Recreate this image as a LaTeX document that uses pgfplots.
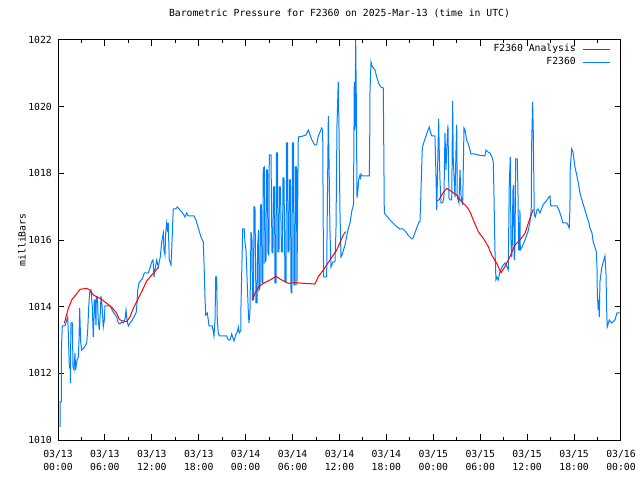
\documentclass[border=0pt]{standalone}
\usepackage{pgfplots}
\pgfplotsset{compat=1.18}
\usepackage{fontspec}
\setmonofont{DejaVu Sans Mono}
\definecolor{gblue}{RGB}{0,128,255}
\definecolor{gred}{RGB}{255,0,0}
\newcommand\gfont{\ttfamily\fontsize{9.8}{13}\selectfont}
\begin{document}
\begin{tikzpicture}
\useasboundingbox (0,0) rectangle (640bp,480bp);
\begin{axis}[
  at={(58bp,40bp)}, anchor=south west,
  scale only axis, width=563bp, height=400bp,
  xmin=0, xmax=72, ymin=1010, ymax=1022,
  xtick={0,6,...,72},
  minor xtick={3,9,...,69},
  xticklabels={{03/13\\00:00},{03/13\\06:00},{03/13\\12:00},{03/13\\18:00},{03/14\\00:00},{03/14\\06:00},{03/14\\12:00},{03/14\\18:00},{03/15\\00:00},{03/15\\06:00},{03/15\\12:00},{03/15\\18:00},{03/16\\00:00}},
  ytick={1010,1012,...,1022},
  yticklabels={1010,1012,1014,1016,1018,1020,1022},
  tick align=inside, tick pos=both,
  major tick length=6bp, minor tick length=3bp,
  every tick/.style={black, line width=1bp},
  axis line style={black, line width=1bp},
  ticklabel style={font=\gfont},
  xticklabel style={align=center, anchor=north, inner sep=0pt, yshift=-10.5bp},
  yticklabel style={anchor=east, inner sep=0pt, xshift=-6bp},
  title={Barometric Pressure for F2360 on 2025-Mar-13 (time in UTC)},
  title style={font=\gfont, at={(rel axis cs:0.5,1)}, anchor=center, yshift=21bp, inner sep=0pt},
  ylabel={milliBars},
  ylabel style={font=\gfont, at={(rel axis cs:-0.064,0.5)}, anchor=center, inner sep=0pt},
  legend style={draw=none, fill=none, font=\gfont, at={(rel axis cs:1,1)}, anchor=north east,
    xshift=-10.5bp, yshift=-2.5bp, row sep=0bp, column sep=5bp, inner sep=0pt,
    nodes={inner sep=1.5bp, text height=7.5bp, text depth=2.5bp},
    cells={anchor=east}},
  legend plot pos=right,
  legend image code/.code={\draw[#1] (0bp,0bp) -- (27bp,0bp);},
]
\addlegendimage{gred, line width=1bp}
\addlegendentry{F2360 Analysis}
\addlegendimage{gblue, line width=1bp}
\addlegendentry{F2360}

% F2360 observations
\addplot[gblue, line width=1bp, forget plot] coordinates {
(0.26,1010.39)(0.26,1011.14)(0.42,1011.14)(0.42,1012.64)(0.55,1013.42)(0.90,1013.42)
(1.24,1013.69)(1.32,1013.21)(1.45,1012.19)(1.57,1012.25)(1.57,1011.71)(1.66,1013.51)
(1.83,1013.51)(1.92,1012.19)(2.05,1012.10)(2.17,1012.61)(2.26,1012.10)(2.43,1012.40)
(2.60,1012.49)(2.69,1013.00)(2.77,1013.96)(2.90,1012.94)(3.03,1012.70)(3.32,1012.76)
(3.67,1012.91)(3.80,1013.30)(3.93,1013.99)(4.05,1014.44)(4.22,1014.50)(4.39,1013.99)
(4.51,1013.09)(4.60,1013.60)(4.64,1014.20)(4.73,1014.20)(4.86,1013.45)(4.90,1014.29)
(5.03,1014.29)(5.15,1013.60)(5.28,1013.30)(5.41,1013.81)(5.50,1014.32)(5.63,1014.05)
(5.79,1013.39)(5.92,1013.60)(6.01,1014.02)(6.65,1014.02)(7.07,1013.84)(7.51,1013.69)
(7.71,1013.51)(7.93,1013.48)(8.15,1013.54)(8.35,1013.51)(8.57,1013.63)(8.70,1013.90)
(8.82,1013.60)(8.99,1013.42)(9.21,1013.51)(9.50,1013.60)(9.85,1013.75)(10.01,1013.84)
(10.10,1014.11)(10.19,1014.50)(10.36,1014.71)(10.61,1014.80)(10.78,1014.83)(11.04,1015.01)
(11.55,1015.01)(11.76,1015.16)(11.98,1015.34)(12.15,1015.40)(12.28,1014.89)(12.40,1015.10)
(12.62,1015.40)(12.83,1015.19)(12.95,1015.34)(13.08,1015.49)(13.26,1015.94)(13.47,1016.21)
(13.55,1015.70)(13.68,1015.55)(13.77,1016.21)(13.90,1016.51)(14.03,1016.24)(14.10,1016.51)
(14.23,1015.40)(14.45,1015.25)(14.54,1015.70)(14.67,1016.51)(14.74,1016.93)(15.05,1016.93)
(15.26,1016.99)(15.60,1016.90)(15.95,1016.81)(16.24,1016.69)(16.46,1016.81)(16.66,1016.72)
(17.39,1016.72)(17.65,1016.60)(17.94,1016.36)(18.29,1016.09)(18.58,1015.94)(18.67,1015.34)
(18.80,1014.26)(18.89,1013.75)(19.09,1013.81)(19.22,1013.60)(19.31,1013.42)(19.73,1013.42)
(19.95,1013.12)(20.08,1013.60)(20.17,1014.89)(20.29,1014.89)(20.37,1013.60)(20.50,1013.21)
(20.63,1013.12)(21.57,1013.12)(21.78,1013.00)(22.00,1013.00)(22.21,1013.18)(22.34,1013.09)
(22.51,1012.97)(22.72,1013.15)(22.93,1013.24)(23.06,1013.39)(23.18,1013.21)(23.40,1013.30)
(23.40,1013.99)(23.62,1016.33)(23.82,1016.33)(23.91,1015.94)(24.04,1015.70)(24.34,1013.84)
(24.42,1013.51)(24.55,1013.84)(24.68,1016.24)(24.81,1016.00)(24.87,1014.20)(25.00,1014.20)
(25.06,1016.99)(25.19,1016.99)(25.32,1014.11)(25.45,1014.11)(25.54,1015.85)(25.64,1016.30)
(25.70,1014.50)(25.83,1014.56)(25.90,1017.05)(26.02,1017.05)(26.09,1014.71)(26.21,1014.71)
(26.25,1018.16)(26.38,1018.19)(26.47,1015.34)(26.60,1015.40)(26.66,1018.10)(26.79,1018.10)
(26.85,1015.61)(26.98,1015.55)(27.02,1018.55)(27.24,1018.55)(27.37,1015.61)(27.49,1015.61)
(27.56,1017.59)(27.69,1017.59)(27.75,1014.71)(27.88,1014.71)(27.94,1018.61)(28.07,1018.61)
(28.13,1015.64)(28.26,1015.64)(28.32,1017.59)(28.45,1017.59)(28.58,1015.64)(28.71,1015.64)
(28.77,1017.86)(28.90,1017.86)(29.03,1014.74)(29.16,1014.74)(29.22,1018.91)(29.35,1018.91)
(29.41,1015.64)(29.54,1015.64)(29.60,1017.80)(29.73,1017.80)(29.80,1014.41)(29.92,1014.41)
(29.99,1018.91)(30.12,1018.91)(30.18,1014.65)(30.31,1014.65)(30.37,1018.19)(30.50,1018.19)
(30.56,1014.65)(30.73,1019.09)(31.33,1019.12)(31.71,1019.15)(32.01,1019.30)(32.23,1019.15)
(32.48,1019.00)(32.83,1018.85)(33.08,1018.85)(33.25,1019.09)(33.72,1019.36)(33.85,1019.30)
(33.93,1016.00)(33.97,1014.89)(34.36,1014.89)(34.40,1016.00)(34.57,1019.72)(34.65,1018.55)
(34.78,1016.30)(34.91,1015.19)(35.17,1015.34)(35.42,1015.34)(35.55,1016.30)(35.68,1019.45)
(35.84,1020.74)(35.93,1019.45)(36.06,1016.84)(36.19,1015.49)(36.32,1015.55)(36.70,1015.85)
(37.08,1016.30)(37.34,1016.51)(37.60,1016.90)(37.79,1017.05)(37.89,1020.74)(37.98,1019.30)
(38.07,1022.00)(38.15,1020.20)(38.24,1017.26)(38.36,1017.50)(38.45,1017.80)(38.58,1017.92)
(38.66,1017.86)(38.75,1017.98)(38.87,1017.92)(39.81,1017.92)(39.86,1018.79)(39.90,1020.44)
(40.03,1021.34)(40.15,1021.22)(40.54,1021.10)(40.79,1020.86)(41.05,1020.68)(41.30,1020.59)
(41.60,1020.56)(41.73,1016.81)(41.94,1016.75)(42.46,1016.60)(42.84,1016.51)(43.22,1016.42)
(43.73,1016.33)(44.12,1016.33)(44.50,1016.24)(44.76,1016.15)(45.01,1016.09)(45.27,1016.03)
(45.40,1016.06)(45.78,1016.30)(46.16,1016.54)(46.29,1016.54)(46.38,1017.14)(46.51,1018.19)
(46.59,1018.76)(46.80,1018.94)(47.19,1019.21)(47.48,1019.39)(47.70,1019.18)(47.83,1019.12)
(48.21,1019.12)(48.30,1018.31)(48.38,1017.50)(48.43,1016.90)(48.50,1017.59)(48.59,1018.64)
(48.68,1019.63)(48.76,1018.64)(48.85,1017.80)(48.98,1017.11)(49.19,1017.11)(49.36,1017.29)
(49.49,1019.21)(49.62,1018.10)(49.71,1018.70)(49.87,1019.45)(50.00,1017.26)(50.13,1017.20)
(50.35,1017.20)(50.47,1020.17)(50.55,1018.40)(50.77,1017.29)(50.90,1018.70)(50.99,1019.45)
(51.06,1017.29)(51.28,1017.11)(51.41,1018.10)(51.53,1017.35)(51.75,1017.05)(51.92,1019.36)
(52.05,1019.30)(52.26,1019.00)(52.43,1018.91)(52.69,1018.70)(52.81,1018.58)(53.32,1018.58)
(53.71,1018.55)(54.60,1018.52)(54.73,1018.70)(54.99,1018.64)(55.24,1018.61)(55.50,1018.49)
(55.67,1018.34)(55.75,1017.41)(55.88,1015.70)(56.01,1014.80)(56.14,1014.89)(56.30,1014.80)
(56.52,1015.04)(56.78,1015.19)(57.16,1015.31)(57.42,1015.19)(57.58,1015.10)(57.71,1017.65)
(57.84,1018.49)(57.93,1016.00)(58.02,1015.49)(58.09,1015.79)(58.18,1017.50)(58.27,1017.65)
(58.35,1015.40)(58.44,1015.70)(58.53,1018.43)(58.73,1018.43)(58.82,1017.50)(58.91,1015.70)
(58.99,1015.70)(59.08,1016.90)(59.12,1015.70)(59.34,1015.79)(59.72,1016.00)(60.10,1016.24)
(60.36,1016.54)(60.52,1016.90)(60.58,1018.91)(60.70,1020.14)(60.78,1019.24)(60.91,1016.75)
(61.04,1016.69)(61.25,1016.90)(61.38,1016.93)(61.64,1016.81)(62.02,1017.05)(62.53,1017.20)
(62.79,1017.29)(62.92,1017.32)(63.00,1017.02)(63.81,1017.02)(64.07,1016.90)(64.32,1016.72)
(64.58,1016.51)(65.09,1016.51)(65.38,1016.36)(65.47,1016.96)(65.51,1018.13)(65.69,1018.73)
(65.86,1018.64)(66.11,1018.19)(66.50,1017.77)(66.75,1017.41)(67.01,1017.20)(67.39,1016.90)
(67.65,1016.69)(67.90,1016.51)(68.03,1016.36)(68.29,1016.21)(68.45,1015.94)(68.67,1015.79)
(68.84,1015.64)(68.93,1015.19)(68.97,1014.41)(69.09,1013.90)(69.18,1014.20)(69.22,1013.69)
(69.31,1014.74)(69.53,1015.16)(69.73,1015.34)(69.95,1015.52)(70.08,1015.01)(70.16,1013.96)
(70.24,1013.39)(70.50,1013.60)(70.81,1013.51)(71.23,1013.60)(71.48,1013.81)(71.87,1013.81)
};

% F2360 Analysis
\addplot[gred, line width=1bp, forget plot] coordinates {
(0.81,1013.50)(1.32,1013.95)(1.75,1014.20)(2.26,1014.35)(2.81,1014.52)(3.67,1014.55)
(4.09,1014.50)(4.51,1014.35)(4.95,1014.30)(5.59,1014.22)(6.23,1014.10)(6.87,1013.98)
(7.51,1013.80)(7.84,1013.62)(8.15,1013.58)(8.79,1013.55)(9.21,1013.70)(9.63,1013.95)
(10.06,1014.15)(10.70,1014.45)(11.34,1014.77)(11.98,1014.95)(12.62,1015.12)(12.92,1015.20)
};
\addplot[gred, line width=1bp, forget plot] coordinates {
(24.87,1014.19)(25.19,1014.40)(25.61,1014.58)(26.25,1014.70)(27.11,1014.80)(27.88,1014.91)
(28.61,1014.80)(29.45,1014.70)(30.31,1014.72)(31.37,1014.70)(32.86,1014.68)(33.29,1014.90)
(33.93,1015.10)(34.78,1015.40)(35.64,1015.70)(36.48,1016.15)(36.79,1016.25)
};
\addplot[gred, line width=1bp, forget plot] coordinates {
(48.53,1017.17)(48.76,1017.22)(49.23,1017.41)(49.71,1017.55)(50.35,1017.45)(50.98,1017.35)
(51.62,1017.15)(52.26,1017.00)(52.69,1016.85)(53.11,1016.60)(53.75,1016.25)(54.39,1016.05)
(55.03,1015.80)(55.46,1015.55)(56.10,1015.30)(56.65,1015.02)(57.16,1015.20)(57.80,1015.50)
(58.44,1015.85)(59.08,1016.00)(59.72,1016.20)(60.14,1016.50)(60.78,1016.92)
};
\end{axis}
\end{tikzpicture}
\end{document}
